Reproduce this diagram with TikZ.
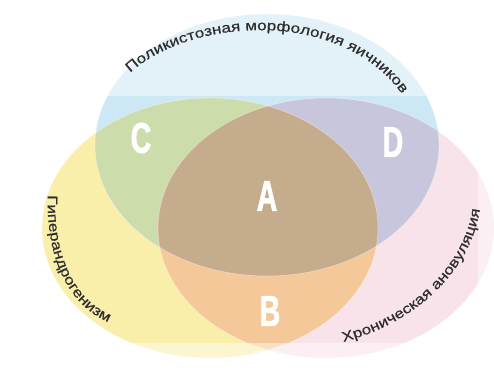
\documentclass[tikz,border=0pt]{standalone}
\usepackage{fontspec}
\setmainfont{Liberation Sans}
\newfontfamily\lblfont[FakeStretch=1.22, FakeBold=0.6]{Liberation Sans}
\newfontfamily\ltrfont[FakeStretch=0.66, FakeBold=1.6]{Liberation Sans}
\usetikzlibrary{decorations.text}

% region colours
\definecolor{yelonly}{HTML}{F9EEAA}
\definecolor{bluonly}{HTML}{CCE8F4}
\definecolor{pnkonly}{HTML}{F9E3EA}
\definecolor{regC}{HTML}{CCDCAA}
\definecolor{regD}{HTML}{C8C6DC}
\definecolor{regB}{HTML}{F4C898}
\definecolor{regA}{HTML}{C4AC8C}
\definecolor{lblgray}{HTML}{2E2E2E}

\tikzset{
  letter/.style={inner sep=0pt, text=white, font=\ltrfont\bfseries\fontsize{43}{43}\selectfont},
  rim/.style={draw=white, draw opacity=0.35, line width=0.8pt},
  curvelabel/.style={decorate, decoration={text along path, text align=center,
      text={|\lblfont\fontsize{14}{14}\selectfont\color{lblgray}|#1}}}
}

\begin{document}
\begin{tikzpicture}[x=1pt,y=1pt]
\useasboundingbox (0,0) rectangle (494,375);
\fill[white] (0,0) rectangle (494,375);

\coordinate (cb) at (267,230);
\coordinate (cy) at (210,147);
\coordinate (cp) at (326,147);

% single sets
\fill[yelonly] (cy) ellipse [x radius=168pt, y radius=130pt];
\fill[pnkonly] (cp) ellipse [x radius=168pt, y radius=130pt];
\fill[bluonly] (cb) ellipse [x radius=172pt, y radius=131pt];

% pairwise overlaps
\begin{scope}
  \clip (cy) ellipse [x radius=168pt, y radius=130pt];
  \fill[regC] (cb) ellipse [x radius=172pt, y radius=131pt];
\end{scope}
\begin{scope}
  \clip (cp) ellipse [x radius=168pt, y radius=130pt];
  \fill[regD] (cb) ellipse [x radius=172pt, y radius=131pt];
\end{scope}
\begin{scope}
  \clip (cy) ellipse [x radius=168pt, y radius=130pt];
  \fill[regB] (cp) ellipse [x radius=168pt, y radius=130pt];
\end{scope}

% triple overlap
\begin{scope}
  \clip (cy) ellipse [x radius=168pt, y radius=130pt];
  \clip (cp) ellipse [x radius=168pt, y radius=130pt];
  \fill[regA] (cb) ellipse [x radius=172pt, y radius=131pt];
\end{scope}

% soft light rims along the borders
\path[rim] (cb) ellipse [x radius=172pt, y radius=131pt];
\path[rim] (cy) ellipse [x radius=168pt, y radius=130pt];
\path[rim] (cp) ellipse [x radius=168pt, y radius=130pt];

% paler margins around the central band
\fill[white, opacity=0.45, even odd rule]
  (0,0) rectangle (494,375) (42,32) rectangle (478,279);

% region letters
\node[letter] (C) at (141,237) {C};
\node[letter] (D) at (393,233) {D};
\node[letter] (A) at (267,179) {A};
\node[letter] (B) at (270,64) {B};

% set labels along the outlines
\path[curvelabel={Поликистозная морфология яичников}]
  (130,302) .. controls (190,357) and (340,368) .. (402,281);
\path[curvelabel={Гиперандрогенизм}]
  (48,188) .. controls (44,115) and (70,65) .. (116,50);
\path[curvelabel={Хроническая ановуляция}]
  (343,33) .. controls (410,50) and (470,100) .. (480,166);
\end{tikzpicture}
\end{document}
